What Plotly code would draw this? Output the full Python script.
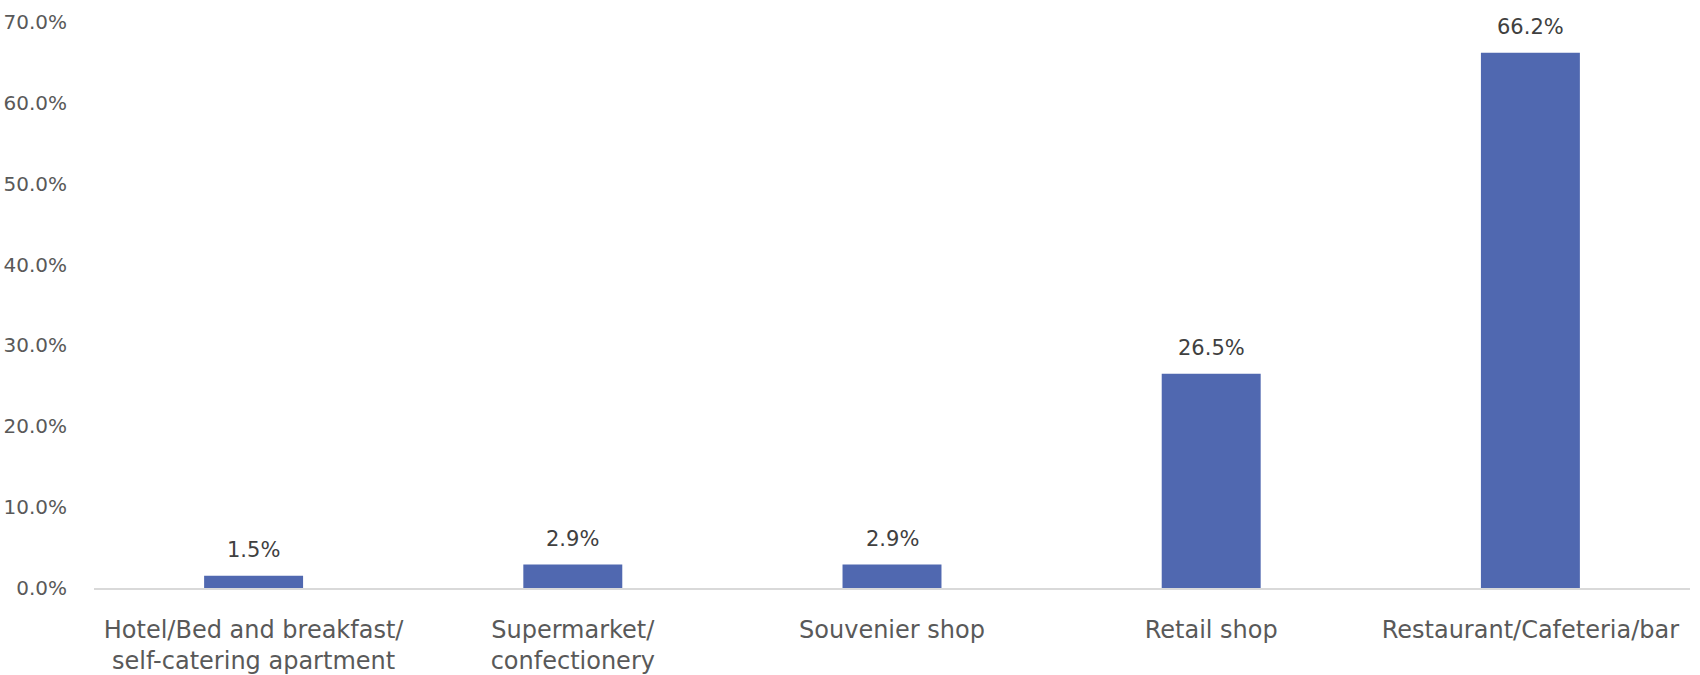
import plotly.graph_objects as go

categories = ["Hotel/Bed and breakfast/<br>self-catering apartment",
              "Supermarket/<br>confectionery",
              "Souvenier shop",
              "Retail shop",
              "Restaurant/Cafeteria/bar"]
values = [1.5, 2.9, 2.9, 26.5, 66.2]
value_labels = ["1.5%", "2.9%", "2.9%", "26.5%", "66.2%"]
y_ticks = [0, 10, 20, 30, 40, 50, 60, 70]
y_ticklabels = ["0.0%", "10.0%", "20.0%", "30.0%", "40.0%", "50.0%", "60.0%", "70.0%"]

FONT = "'DejaVu Sans', Verdana, sans-serif"
x_idx = list(range(len(categories)))

fig = go.Figure(go.Bar(
    x=x_idx, y=values,
    marker=dict(color="#5068B0", line=dict(width=0)),
    width=0.31,
    hoverinfo="skip",
))

for xi, v, t in zip(x_idx, values, value_labels):
    fig.add_annotation(x=xi, y=v, text=t, showarrow=False, yanchor="bottom",
                       yshift=12, font=dict(family=FONT, size=21, color="#404040"))

fig.update_layout(
    width=1700, height=675,
    margin=dict(l=94, r=10, t=22, b=87),
    plot_bgcolor="white", paper_bgcolor="white",
    showlegend=False,
    font=dict(family=FONT, size=19, color="#595959"),
)
fig.update_xaxes(
    range=[-0.5, 4.5], automargin=False,
    tickmode="array", tickvals=x_idx, ticktext=categories,
    showline=True, linecolor="#D9D9D9", linewidth=2,
    showgrid=False, ticks="", zeroline=False,
    tickfont=dict(family=FONT, size=24, color="#595959"),
    ticklabelstandoff=19,
)
fig.update_yaxes(
    range=[0, 70], automargin=False,
    tickmode="array", tickvals=y_ticks, ticktext=y_ticklabels,
    showgrid=False, zeroline=False, showline=False, ticks="",
    tickfont=dict(family=FONT, size=20, color="#595959"),
    ticklabelstandoff=26,
)

fig.write_html("out.html")
